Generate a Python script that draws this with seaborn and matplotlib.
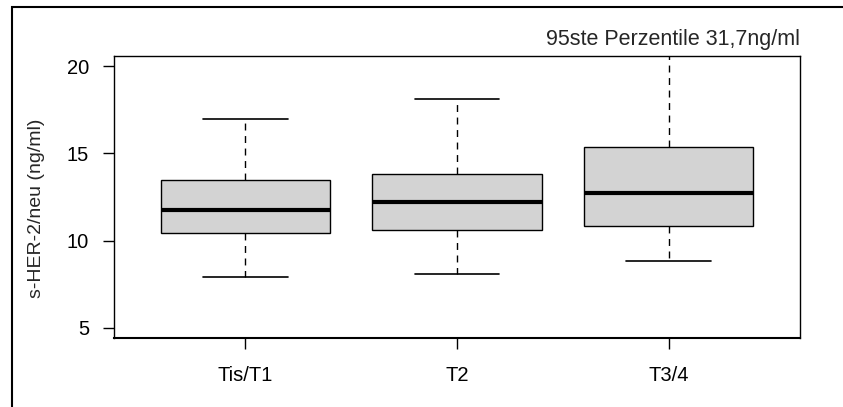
import matplotlib
matplotlib.use('Agg')
import matplotlib.pyplot as plt
import pandas as pd
import seaborn as sns

# five-number summaries (min, q1, median, q3, max)
categories = ['Tis/T1', 'T2', 'T3/4']
tis_t1 = [7.9, 10.45, 11.75, 13.5, 17.0]
t2 = [8.1, 10.6, 12.2, 13.8, 18.15]
t3_4 = [8.8, 10.85, 12.75, 15.35, 31.7]
y_ticks = [5, 10, 15, 20]
note = '95ste Perzentile 31,7ng/ml'

df = pd.DataFrame({
    'stadium': [categories[0]] * 5 + [categories[1]] * 5 + [categories[2]] * 5,
    'value': tis_t1 + t2 + t3_4,
})

sns.set_style('white')
plt.rcParams['font.family'] = ['Liberation Sans', 'DejaVu Sans']

fig = plt.figure(figsize=(8.43, 4.07), dpi=100)
ax = fig.add_axes([114 / 843, 1 - 338 / 407, 686 / 843, 282 / 407])

sns.boxplot(data=df, x='stadium', y='value', order=categories, ax=ax,
            whis=(0, 100), width=0.8, color='#d3d3d3', saturation=1,
            linecolor='black', linewidth=1,
            medianprops={'linewidth': 3, 'color': 'black'},
            whiskerprops={'linestyle': (0, (5, 4)), 'linewidth': 1},
            capprops={'linewidth': 1.2})

ax.set_xlim(-0.62, 2.62)
ax.set_ylim(4.4, 20.6)
ax.set_yticks(y_ticks)
ax.set_yticklabels([str(t) for t in y_ticks])
ax.set_xlabel('')
ax.set_ylabel('s-HER-2/neu (ng/ml)', fontsize=14)
ax.yaxis.set_label_coords(-0.1006, 0.46)
ax.tick_params(axis='y', direction='out', length=8, width=1, pad=10,
               labelsize=14.5, left=True, colors='black')
ax.tick_params(axis='x', direction='out', length=8, width=1, pad=12,
               labelsize=14.5, bottom=True, colors='black')
for side in ['left', 'right', 'top', 'bottom']:
    ax.spines[side].set_visible(True)
    ax.spines[side].set_color('black')
    ax.spines[side].set_linewidth(1)
ax.spines['bottom'].set_linewidth(1.5)

ax.text(1.0, 1.039, note, transform=ax.transAxes, ha='right', va='baseline',
        fontsize=15.5)

# outer frame of the figure (cut at right and bottom)
fig.add_artist(plt.Rectangle((12 / 843, -0.1), 1.2, 0.1 + 1 - 7.5 / 407,
                             transform=fig.transFigure, fill=False,
                             edgecolor='black', linewidth=1.5))

plt.savefig('out.png', dpi=100)
